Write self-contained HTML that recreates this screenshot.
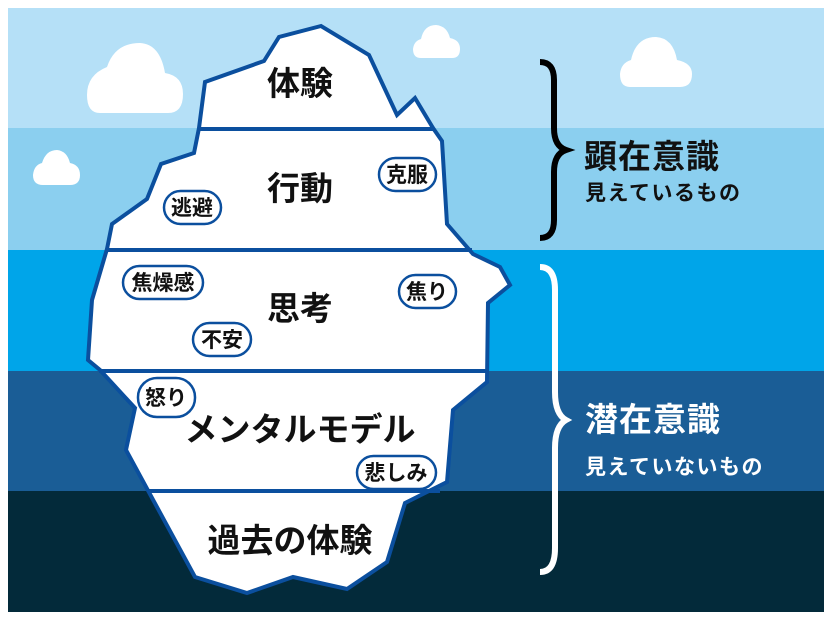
<!DOCTYPE html>
<html><head><meta charset="utf-8"><style>
html,body{margin:0;padding:0;background:#fff;}
body{width:830px;height:619px;overflow:hidden;}
svg text{font-family:"Liberation Sans","Noto Sans CJK JP",sans-serif;font-weight:bold;}
</style></head><body>
<svg width="830" height="619" viewBox="0 0 830 619" xmlns="http://www.w3.org/2000/svg">
<rect x="8" y="8" width="816" height="121" fill="#b5e0f7"/>
<rect x="8" y="128" width="816" height="122" fill="#8bcfef"/>
<rect x="8" y="250" width="816" height="121" fill="#00a5e9"/>
<rect x="8" y="371" width="816" height="120" fill="#1a5d96"/>
<rect x="8" y="491" width="816" height="121" fill="#032a3a"/>
<g fill="#fff">
<path d="M100 113 Q87 113 87 95 Q87 75 107 67 Q115 43 140 43 Q160 44 165 73 Q183 76 183 94 Q183 113 168 113 Z"/>
<path d="M43 185 Q33 185 33 175 Q34 165 42 163 Q46 150 57 150 Q67 151 70 163 Q80 165 80 175 Q80 185 70 185 Z"/>
<path d="M421 58 Q413 58 413 49 Q414 41 421 39 Q424 25 436 25 Q447 26 450 38 Q460 40 460 49 Q460 58 452 58 Z"/>
<path d="M630 87 Q620 87 620 74 Q621 63 631 60 Q636 37 656 37 Q673 38 677 60 Q692 63 692 74 Q692 87 680 87 Z"/>
</g>
<path d="M321 26 L279 37 L264 61 L205 82 L199 128 L194 153 L161 164 L147 199 L112 224 L107 249 L92 300 L88 360 L100 370 L135 408 L126 450 L195 577 L247 593 L293 577 L347 589 L387 562 L405 503 L447 482 L453 410 L487 382 L488 303 L510 285 L500 267 L473 254 L447 224 L442 141 L433 128 L415 98 L397 115 L369 55 Z" fill="#fff" stroke="#0b4f9e" stroke-width="4" stroke-linejoin="miter"/>
<g stroke="#0b4f9e" stroke-width="4">
<line x1="199" y1="129" x2="434" y2="129"/>
<line x1="107" y1="250" x2="472" y2="250"/>
<line x1="99" y1="371" x2="488" y2="371"/>
<line x1="148" y1="491" x2="440" y2="491"/>
</g>
<g font-size="33" text-anchor="middle" fill="#111">
<text x="300" y="95">体験</text>
<text x="300" y="200">行動</text>
<text x="300" y="320">思考</text>
<text x="300" y="441">メンタルモデル</text>
<text x="290" y="552">過去の体験</text>
</g>
<g fill="#fff" stroke="#0b4f9e" stroke-width="2.5">
<rect x="164" y="191" width="57" height="33" rx="16.5"/>
<rect x="379" y="158" width="57" height="33" rx="16.5"/>
<rect x="123" y="266" width="80" height="33" rx="16.5"/>
<rect x="399" y="275" width="57" height="33" rx="16.5"/>
<rect x="193" y="323" width="58" height="33" rx="16.5"/>
<rect x="138" y="378" width="57" height="39" rx="19"/>
<rect x="357" y="456" width="79" height="33" rx="16.5"/>
</g>
<g font-size="21" text-anchor="middle" fill="#111">
<text x="192" y="215">逃避</text>
<text x="407" y="182">克服</text>
<text x="163" y="290">焦燥感</text>
<text x="427" y="299">焦り</text>
<text x="222" y="347">不安</text>
<text x="166" y="405">怒り</text>
<text x="396" y="480">悲しみ</text>
</g>
<path d="M540 62 Q554 62 554 80 L554 128 Q554 146 566 150 Q554 154 554 172 L554 220 Q554 238 540 238" fill="none" stroke="#000" stroke-width="6"/>
<path d="M540 267 Q555 267 555 290 L555 392 Q555 414 566 420 Q555 426 555 448 L555 548 Q555 572 540 572" fill="none" stroke="#fff" stroke-width="6"/>
<text x="584" y="168" font-size="33" fill="#111" letter-spacing="1">顕在意識</text>
<text x="585" y="200" font-size="21" fill="#111" letter-spacing="1.5">見えているもの</text>
<text x="585" y="431" font-size="33" fill="#fff" letter-spacing="1">潜在意識</text>
<text x="585" y="474" font-size="21" fill="#fff" letter-spacing="1.5">見えていないもの</text>
</svg>
</body></html>
